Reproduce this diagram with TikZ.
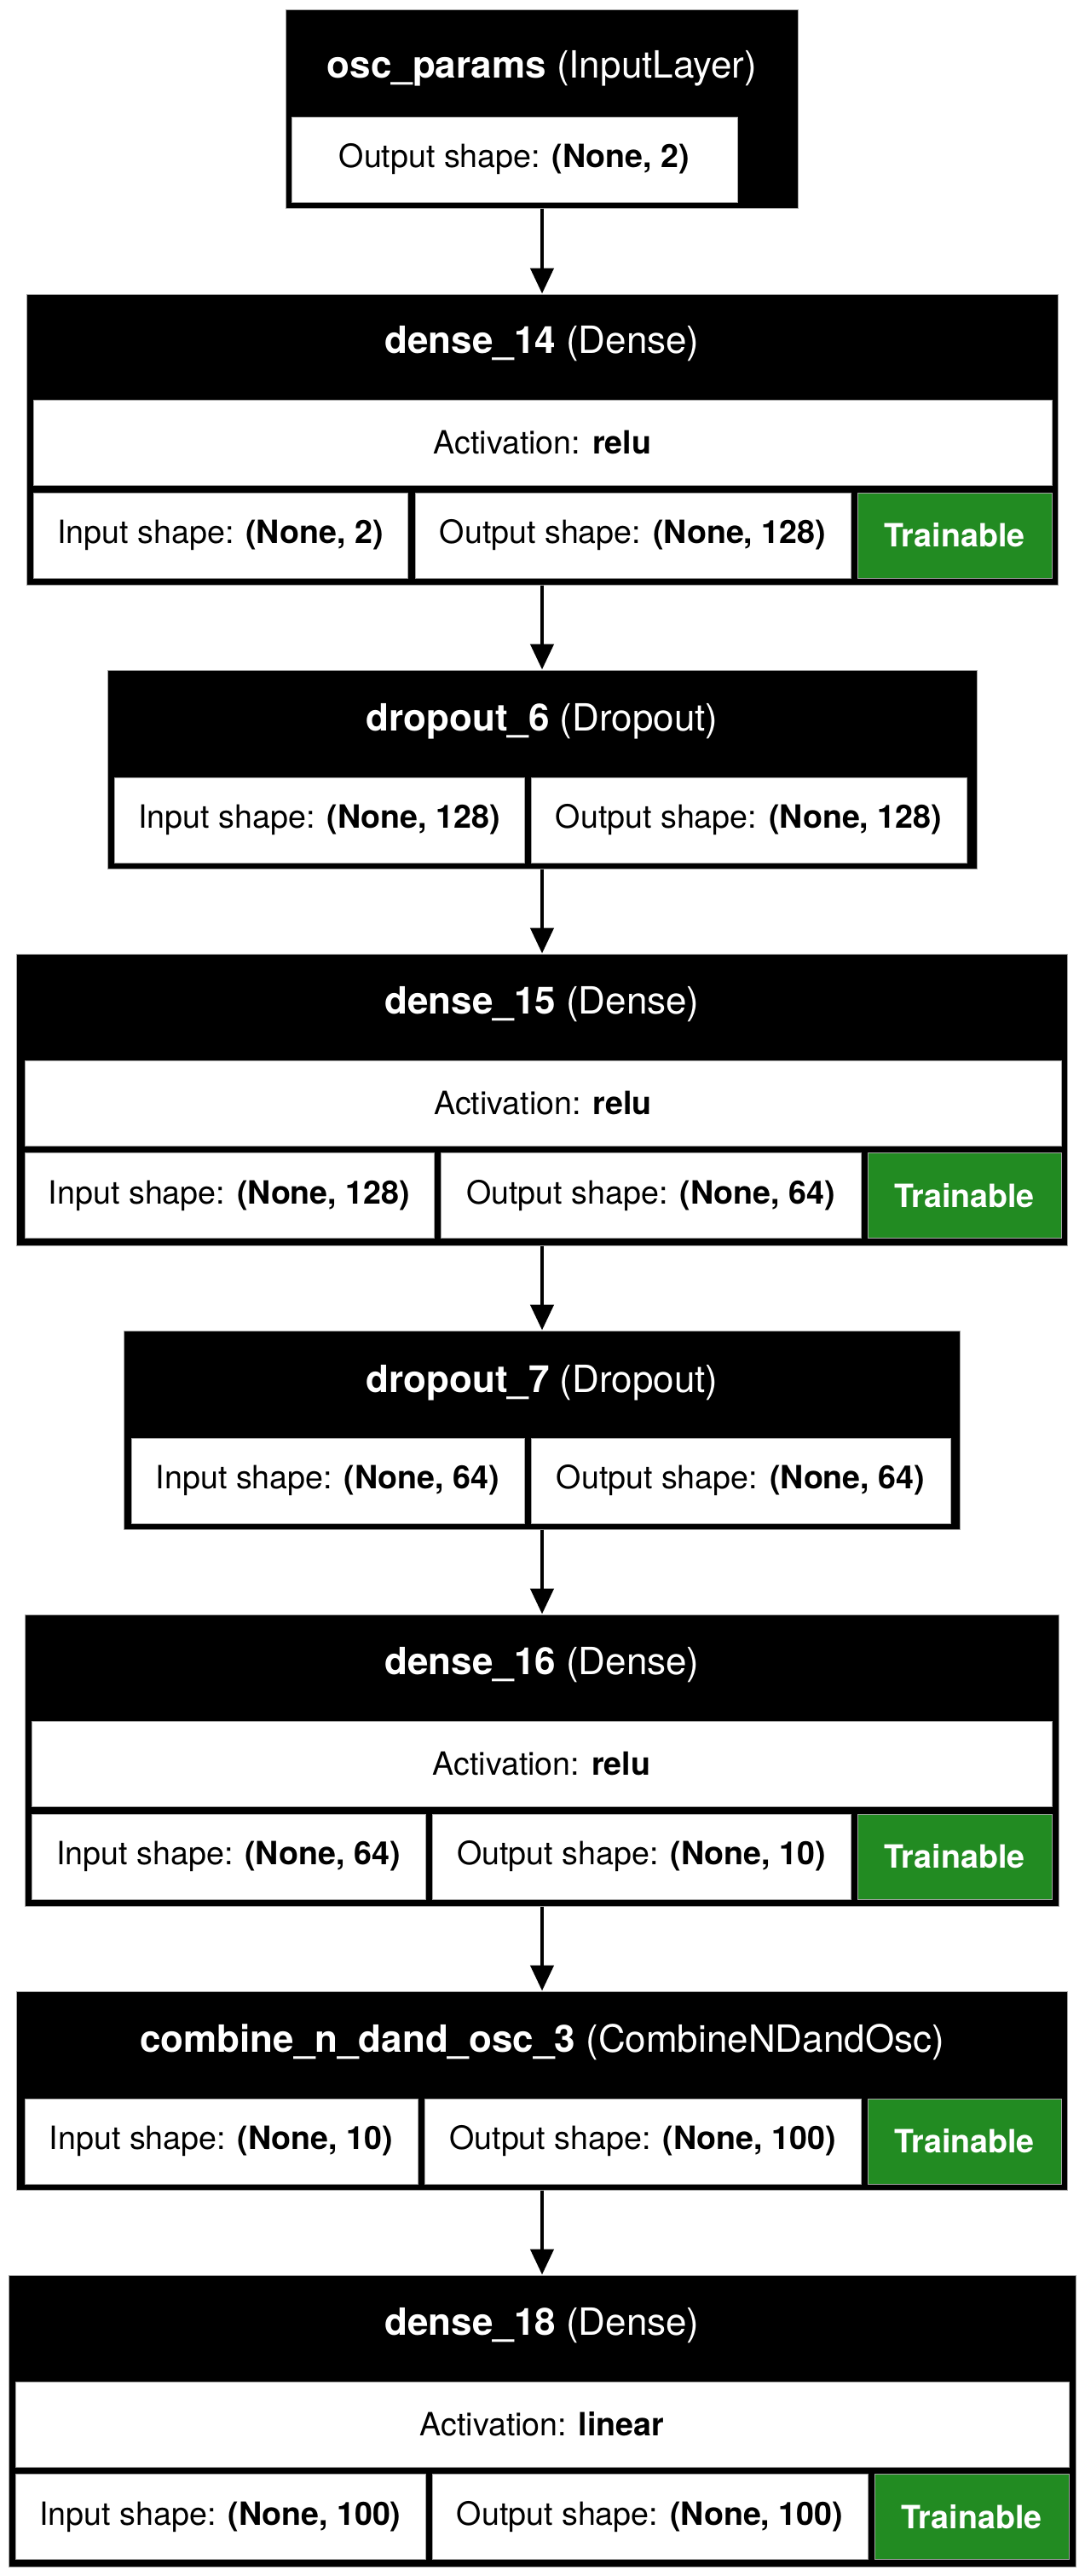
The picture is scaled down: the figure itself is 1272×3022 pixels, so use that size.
\documentclass[tikz,border=0pt]{standalone}
\usepackage{fontspec}
\setmainfont{TeX Gyre Heros}
\usetikzlibrary{arrows.meta}

\definecolor{trainGreen}{HTML}{228B22}

\tikzstyle{layer} = [rectangle, fill=black, draw=gray!70, line width=1pt, inner sep=0pt]
\tikzstyle{cell} = [rectangle, fill=white, draw=gray!70, line width=1pt, inner sep=0pt, minimum height=100pt]
\tikzstyle{train} = [cell, fill=trainGreen, text=white, minimum width=228pt]
\tikzstyle{title} = [text=white, inner sep=0pt, font=\fontsize{44}{52}\selectfont]
\tikzstyle{flow} = [line width=4.5pt, -{Triangle[length=30pt,width=27pt]}]

\begin{document}
\begin{tikzpicture}[x=1pt, y=-1pt, font=\fontsize{37.6}{45}\selectfont]

\useasboundingbox (0,0) rectangle (1272,3022);

\node [layer, minimum width=601pt, minimum height=233pt] (osc) at (636,127.5) {};

\node [title] (tosc) at (636,80) {\textbf{osc\_params} (InputLayer)};

\node [cell, minimum width=523pt] (oscout) at (603.5,187) {Output shape: \textbf{(None, 2)}};

\node [layer, minimum width=1210pt, minimum height=341pt] (d14) at (636,515.5) {};

\node [title] (td14) at (636,403) {\textbf{dense\_14} (Dense)};

\node [cell, minimum width=1195pt] (d14act) at (636.5,519) {Activation: \textbf{relu}};

\node [cell, minimum width=439pt] (d14in) at (258.5,628) {Input shape: \textbf{(None, 2)}};

\node [cell, minimum width=511pt] (d14out) at (742.5,628) {Output shape: \textbf{(None, 128)}};

\node [train] (d14tr) at (1120,628) {\textbf{Trainable}};

\node [layer, minimum width=1020pt, minimum height=233pt] (dr6) at (636,902.5) {};

\node [title] (tdr6) at (636,846) {\textbf{dropout\_6} (Dropout)};

\node [cell, minimum width=481pt] (dr6in) at (374.5,962) {Input shape: \textbf{(None, 128)}};

\node [cell, minimum width=511pt] (dr6out) at (878.5,962) {Output shape: \textbf{(None, 128)}};

\node [layer, minimum width=1233pt, minimum height=342pt] (d15) at (636,1290) {};

\node [title] (td15) at (636,1178) {\textbf{dense\_15} (Dense)};

\node [cell, minimum width=1216pt] (d15act) at (637,1294) {Activation: \textbf{relu}};

\node [cell, minimum width=480pt] (d15in) at (269,1402.5) {Input shape: \textbf{(None, 128)}};

\node [cell, minimum width=493pt] (d15out) at (763.5,1402.5) {Output shape: \textbf{(None, 64)}};

\node [train, minimum width=227pt] (d15tr) at (1131.5,1402.5) {\textbf{Trainable}};

\node [layer, minimum width=981pt, minimum height=233pt] (dr7) at (636,1677.5) {};

\node [title] (tdr7) at (636,1622) {\textbf{dropout\_7} (Dropout)};

\node [cell, minimum width=461pt] (dr7in) at (384.5,1737) {Input shape: \textbf{(None, 64)}};

\node [cell, minimum width=492pt] (dr7out) at (869,1737) {Output shape: \textbf{(None, 64)}};

\node [layer, minimum width=1213pt, minimum height=342pt] (d16) at (636,2065) {};

\node [title] (td16) at (636,1953) {\textbf{dense\_16} (Dense)};

\node [cell, minimum width=1197pt] (d16act) at (635.5,2069) {Activation: \textbf{relu}};

\node [cell, minimum width=462pt] (d16in) at (268,2178) {Input shape: \textbf{(None, 64)}};

\node [cell, minimum width=491pt] (d16out) at (752.5,2178) {Output shape: \textbf{(None, 10)}};

\node [train] (d16tr) at (1120,2178) {\textbf{Trainable}};

\node [layer, minimum width=1233pt, minimum height=233pt] (comb) at (636,2452.5) {};

\node [title] (tcomb) at (636,2396) {\textbf{combine\_n\_dand\_osc\_3} (CombineNDandOsc)};

\node [cell, minimum width=461pt] (combin) at (259.5,2512) {Input shape: \textbf{(None, 10)}};

\node [cell, minimum width=512pt] (combout) at (754,2512) {Output shape: \textbf{(None, 100)}};

\node [train, minimum width=227pt] (combtr) at (1131.5,2512) {\textbf{Trainable}};

\node [layer, minimum width=1252pt, minimum height=342pt] (d18) at (636,2840) {};

\node [title] (td18) at (636,2728) {\textbf{dense\_18} (Dense)};

\node [cell, minimum width=1236pt] (d18act) at (636,2844) {Activation: \textbf{linear}};

\node [cell, minimum width=481pt] (d18in) at (258.5,2952.5) {Input shape: \textbf{(None, 100)}};

\node [cell, minimum width=511pt] (d18out) at (762.5,2952.5) {Output shape: \textbf{(None, 100)}};

\node [train] (d18tr) at (1140,2952.5) {\textbf{Trainable}};

\draw [flow] (osc.south) -- (d14.north);

\draw [flow] (d14.south) -- (dr6.north);

\draw [flow] (dr6.south) -- (d15.north);

\draw [flow] (d15.south) -- (dr7.north);

\draw [flow] (dr7.south) -- (d16.north);

\draw [flow] (d16.south) -- (comb.north);

\draw [flow] (comb.south) -- (d18.north);

\end{tikzpicture}
\end{document}
